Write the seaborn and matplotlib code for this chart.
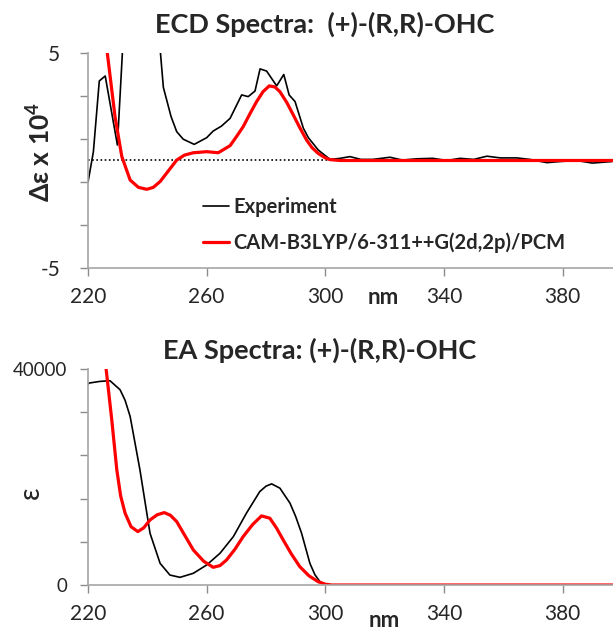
import matplotlib
matplotlib.use("Agg")
import matplotlib.pyplot as plt
import seaborn as sns
import pandas as pd

# ECD spectra (delta epsilon x 10^4)
ecd_exp_nm = [220, 221.8, 223.8, 225.8, 229.9, 231.7, 234, 238, 242, 244.3, 245.4, 248, 249.9,
              252.1, 255.8, 260, 262.2, 265, 267.9, 271.8, 274, 276.3, 278, 280.2, 283.6, 286,
              287.8, 289.8, 292.6, 294.3, 297.6, 301.6, 305, 308.3, 312, 316, 321.8, 326, 331,
              336.3, 341, 345.4, 350, 354.5, 359, 364.6, 369, 374.7, 379, 384.8, 390, 396.6]
ecd_exp = [-1.0, 0.4, 3.7, 3.93, 0.72, 5.3, 9.0, 12.0, 8.0, 5.2, 3.4, 2.04, 1.34,
           0.99, 0.75, 1.06, 1.37, 1.6, 1.96, 3.05, 2.97, 3.23, 4.26, 4.16, 3.47, 4.0,
           3.05, 2.74, 1.5, 1.06, 0.49, 0.05, 0.1, 0.18, 0.05, 0.05, 0.15, 0.02, 0.08,
           0.1, 0.0, 0.1, 0.05, 0.2, 0.12, 0.12, 0.05, -0.1, -0.05, 0.0, -0.12, -0.05]

ecd_calc_nm = [220, 222, 224, 226.5, 229.1, 231.4, 234.2, 237, 239.8, 242, 244.3, 247, 249.9,
               252.5, 255.5, 260, 263.9, 267.9, 270, 272.3, 274.5, 276.8, 279, 281.1, 283,
               284.7, 287, 289.2, 291.5, 293.7, 295.5, 297.6, 300, 301.6, 305, 320, 340,
               360, 380, 397]
ecd_calc = [20, 13, 8, 5, 2.04, 0.18, -0.91, -1.25, -1.34, -1.25, -0.98, -0.5, 0.02,
            0.25, 0.36, 0.41, 0.36, 0.69, 1.1, 1.57, 2.15, 2.73, 3.2, 3.47, 3.42,
            3.2, 2.7, 2.12, 1.5, 0.95, 0.6, 0.33, 0.12, 0.04, 0.0, 0.0, 0.0,
            0.0, 0.0, 0.0]

# EA spectra (epsilon)
ea_exp_nm = [220, 220.4, 224, 227.4, 230.8, 232.5, 234.2, 237.5, 240.9, 244.3, 247.6, 251,
             255.5, 260, 264.5, 269, 273.4, 277.9, 280, 281.9, 284.7, 288.1, 290, 292,
             294.8, 296.5, 298.2, 300, 303, 320, 350, 397]
ea_exp = [37200, 37400, 37700, 37830, 36160, 34200, 31210, 21330, 9590, 4020, 1850, 1420,
          2170, 3710, 5880, 8960, 13300, 17300, 18300, 18730, 17930, 15150, 12700, 9590,
          4020, 1900, 610, 150, 0, 0, 0, 0]

ea_calc_nm = [222, 224, 226.1, 228, 229.7, 231, 232.5, 234.5, 236.8, 238.8, 240.9, 243.3, 245.7,
              247.8, 249.9, 252.5, 255.5, 259, 262.2, 264.5, 266.7, 269.5, 272.3, 275.5, 278.5,
              281.3, 283.5, 285.8, 288.5, 291.4, 294.5, 297.6, 300, 302, 320, 350, 397]
ea_calc = [56000, 48000, 40000, 30600, 21330, 16500, 13300, 10800, 9890, 10600, 12050, 13000, 13410,
           12900, 11740, 9300, 6490, 4400, 3280, 3600, 4640, 6600, 8960, 11200, 12800,
           12370, 10600, 8350, 5800, 3400, 1700, 610, 150, 0, 0, 0, 0]

exp_label = "Experiment"
calc_label = "CAM-B3LYP/6-311++G(2d,2p)/PCM"

sns.set_style("white")
plt.rcParams["font.family"] = ["Lato", "DejaVu Sans"]
plt.rcParams["mathtext.fontset"] = "custom"
plt.rcParams["mathtext.rm"] = "Lato"
plt.rcParams["mathtext.bf"] = "Lato:bold"

ecd_df = pd.concat([
    pd.DataFrame({"nm": ecd_exp_nm, "val": ecd_exp, "series": exp_label}),
    pd.DataFrame({"nm": ecd_calc_nm, "val": ecd_calc, "series": calc_label}),
])
ea_df = pd.concat([
    pd.DataFrame({"nm": ea_exp_nm, "val": ea_exp, "series": exp_label}),
    pd.DataFrame({"nm": ea_calc_nm, "val": ea_calc, "series": calc_label}),
])

palette = {exp_label: "black", calc_label: "#ff0000"}
widths = {exp_label: 1.2, calc_label: 2.3}

fig = plt.figure(figsize=(6.13, 6.3), dpi=100)
ax1 = fig.add_axes([0.1436, 0.5746, 0.8564, 0.3413])
ax2 = fig.add_axes([0.1436, 0.0714, 0.8564, 0.3429])

for ax, df in [(ax1, ecd_df), (ax2, ea_df)]:
    for name in [exp_label, calc_label]:
        sub = df[df["series"] == name]
        sns.lineplot(data=sub, x="nm", y="val", ax=ax, color=palette[name],
                     linewidth=widths[name], label=name, sort=False, estimator=None)
    ax.set_xlim(220, 397)
    ax.set_xticks([220, 260, 300, 340, 380])
    for s in ["top", "right"]:
        ax.spines[s].set_visible(False)
    for s in ["left", "bottom"]:
        ax.spines[s].set_color("#a6a6a6")
        ax.spines[s].set_linewidth(1.2)
    ax.tick_params(axis="both", direction="out", length=6, width=1.0, color="#8c8c8c",
                   labelsize=15, left=True, bottom=True)
    ax.tick_params(axis="x", pad=8)

# top panel
ax1.set_ylim(-5, 5)
ax1.set_yticks([-5, -3, -1, 1, 3, 5])
ax1.set_yticklabels(["-5", "", "", "", "", "5"])
ax1.tick_params(axis="y", pad=14)
ax1.axhline(0, color="black", linestyle=(0, (1, 1.5)), linewidth=1.2, zorder=1)
ax1.set_xlabel("nm", fontsize=16, fontweight="bold")
ax1.xaxis.set_label_coords(0.562, -0.09)
ax1.set_ylabel("\u0394\u03b5 x 10$^{\\mathbf{4}}$", fontsize=19, fontweight="bold")
ax1.yaxis.set_label_coords(-0.064, 0.54)
leg = ax1.legend(loc="upper left", bbox_to_anchor=(0.219, 0.33), frameon=False,
                 borderpad=0, borderaxespad=0,
                 handlelength=1.3, handletextpad=0.2, labelspacing=0.75,
                 prop={"size": 14.5, "weight": "bold"})

# bottom panel
ax2.set_ylim(0, 40000)
ax2.set_yticks([0, 8000, 16000, 24000, 32000, 40000])
ax2.set_yticklabels(["0", "", "", "", "", "40000"])
ax2.tick_params(axis="y", pad=9, labelsize=13.5)
ax2.set_xlabel("nm", fontsize=16, fontweight="bold")
ax2.xaxis.set_label_coords(0.565, -0.115)
ax2.set_ylabel("\u03b5", fontsize=20)
ax2.yaxis.set_label_coords(-0.084, 0.426)
ax2.get_legend().remove()

fig.text(0.529, 0.962, "ECD Spectra:  (+)-(R,R)-OHC", ha="center", va="center",
         fontsize=19.5, fontweight="bold")
fig.text(0.522, 0.444, "EA Spectra: (+)-(R,R)-OHC", ha="center", va="center",
         fontsize=19.5, fontweight="bold")

fig.savefig("out.png", dpi=100)
